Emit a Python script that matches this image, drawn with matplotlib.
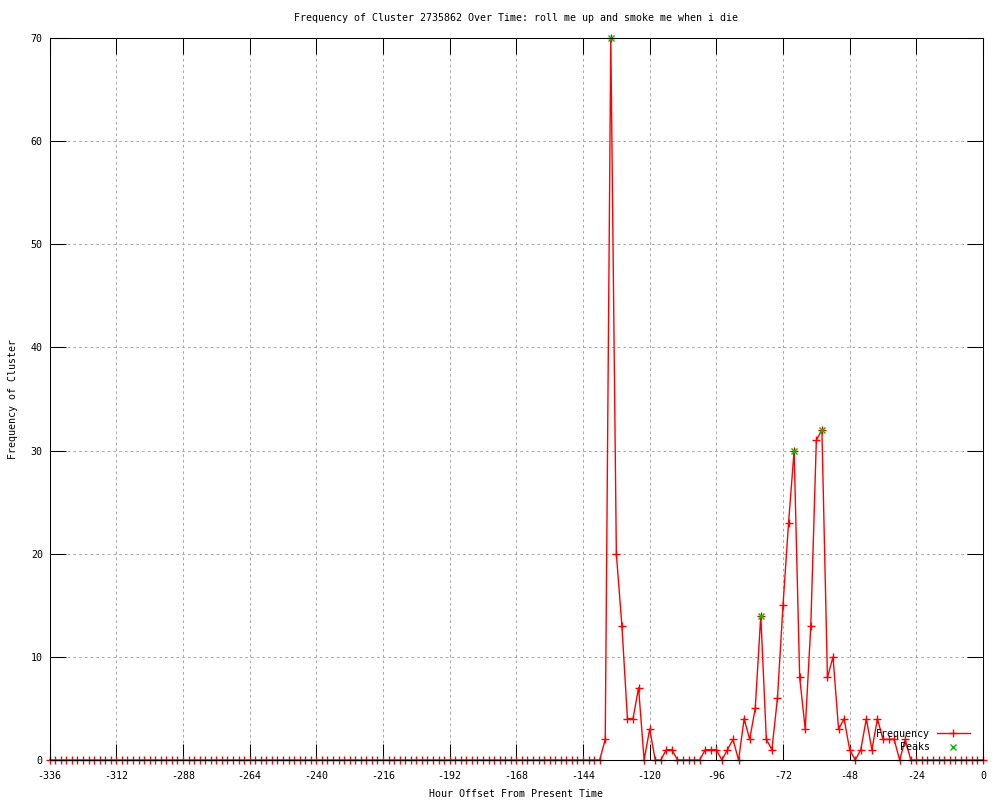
import matplotlib
matplotlib.use("Agg")
import matplotlib.pyplot as plt

# hours before now, one sample every 2 hours
hours = list(range(-336, 1, 2))

# frequency per 2h bin
freq_before = [0] * 100          # -336 .. -138 all zero
freq_active = [2, 70, 20, 13, 4, 4, 7, 0, 3, 0,
               0, 1, 1, 0, 0, 0, 0, 0, 1, 1,
               1, 0, 1, 2, 0, 4, 2, 5, 14, 2,
               1, 6, 15, 23, 30, 8, 3, 13, 31, 32,
               8, 10, 3, 4, 1, 0, 1, 4, 1, 4,
               2, 2, 2, 0, 2]     # -136 .. -28
freq_after = [0] * 14            # -26 .. 0
frequency = freq_before + freq_active + freq_after

peak_hours = [-134, -80, -68, -58]
peak_values = [70, 14, 30, 32]

title = "Frequency of Cluster 2735862 Over Time: roll me up and smoke me when i die"
xticks = list(range(-336, 1, 24))
yticks = list(range(0, 71, 10))

plt.rcParams['font.family'] = ['DejaVu Sans Mono']
plt.rcParams['axes.unicode_minus'] = False
fs = 7.2

fig = plt.figure(figsize=(10, 8), dpi=100)
ax = fig.add_axes([0.0497, 0.05, 0.9333, 0.9025])

ax.plot(hours, frequency, color='#ff0000', lw=1, marker='+', ms=5.5,
        mew=1, label='Frequency', clip_on=False, zorder=3)
ax.plot(peak_hours, peak_values, ls='none', marker='x', color='#00c000',
        ms=5, mew=1, label='    Peaks', clip_on=False, zorder=4)

ax.set_xlim(-336, 0)
ax.set_ylim(0, 70)
ax.set_xticks(xticks)
ax.set_yticks(yticks)
ax.tick_params(direction='in', length=11.5, width=0.75, top=True, right=True,
               labelsize=fs, colors='black')
ax.tick_params(axis='x', pad=8)
ax.tick_params(axis='y', pad=5)
ax.grid(True, color='#a8a8a8', lw=0.75, ls=(0, (2.5, 3)))
ax.set_axisbelow(True)
for s in ax.spines.values():
    s.set_linewidth(0.75)
    s.set_zorder(5)

ax.set_title(title, fontsize=fs, pad=12)
ax.set_xlabel("Hour Offset From Present Time", fontsize=fs, labelpad=6)
ax.set_ylabel("Frequency of Cluster", fontsize=fs, labelpad=9)

ax.legend(loc='lower right', bbox_to_anchor=(0.986, 0.011), frameon=False,
          markerfirst=False, numpoints=1, fontsize=fs, handlelength=3.3,
          handletextpad=0.7, labelspacing=0.35, borderpad=0, borderaxespad=0)

fig.savefig("out.png", dpi=100)
